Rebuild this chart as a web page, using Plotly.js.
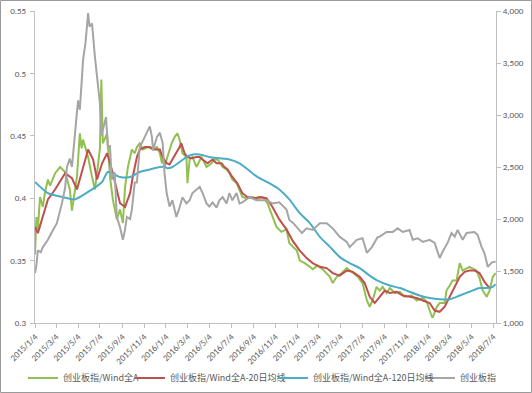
<!DOCTYPE html>
<html><head><meta charset="utf-8">
<script src="https://cdn.plot.ly/plotly-3.0.1.min.js"></script>
<style>html,body{margin:0;padding:0;background:#fff}#chart{width:532px;height:393px}</style>
</head><body><div id="chart"></div>
<script>
const seriesNames = ["创业板指/Wind全A","创业板指/Wind全A-20日均线","创业板指/Wind全A-120日均线","创业板指"];

const ratioDates = ["2015-01-04","2015-01-08","2015-01-12","2015-01-18","2015-01-26","2015-02-01","2015-02-09","2015-02-15","2015-03-01","2015-03-15","2015-03-29","2015-04-11","2015-04-17","2015-04-22","2015-05-01","2015-05-09","2015-05-14","2015-05-18","2015-06-01","2015-06-12","2015-06-20","2015-06-28","2015-07-04","2015-07-08","2015-07-10","2015-07-12","2015-07-24","2015-08-01","2015-08-09","2015-08-20","2015-08-29","2015-09-06","2015-09-12","2015-09-20","2015-10-01","2015-10-09","2015-10-15","2015-10-23","2015-11-01","2015-11-15","2015-11-29","2015-12-10","2015-12-18","2015-12-24","2015-12-26","2015-12-31","2016-01-08","2016-01-20","2016-01-28","2016-02-05","2016-02-11","2016-02-19","2016-03-01","2016-03-04","2016-03-10","2016-03-18","2016-03-29","2016-04-12","2016-04-26","2016-05-10","2016-05-18","2016-05-27","2016-06-10","2016-06-21","2016-06-29","2016-07-07","2016-07-19","2016-07-27","2016-08-04","2016-08-15","2016-09-01","2016-09-15","2016-09-29","2016-10-13","2016-10-24","2016-11-07","2016-11-21","2016-12-05","2016-12-13","2017-01-03","2017-01-11","2017-01-25","2017-02-08","2017-02-16","2017-03-02","2017-03-16","2017-04-05","2017-04-13","2017-04-24","2017-05-08","2017-05-22","2017-06-08","2017-06-22","2017-07-05","2017-07-17","2017-07-25","2017-08-02","2017-08-13","2017-08-22","2017-08-30","2017-09-10","2017-09-19","2017-10-03","2017-10-17","2017-10-30","2017-11-19","2017-12-03","2017-12-20","2017-12-31","2018-01-08","2018-01-16","2018-01-28","2018-02-05","2018-02-19","2018-02-24","2018-03-05","2018-03-13","2018-03-24","2018-04-02","2018-04-10","2018-04-21","2018-04-29","2018-05-19","2018-05-27","2018-06-05","2018-06-16","2018-06-24","2018-07-03","2018-07-11"];
const ratioValues = [0.355,0.385,0.375,0.401,0.393,0.405,0.415,0.410,0.420,0.425,0.421,0.407,0.390,0.400,0.417,0.452,0.440,0.447,0.433,0.417,0.407,0.425,0.440,0.495,0.460,0.444,0.452,0.417,0.399,0.383,0.391,0.380,0.409,0.425,0.439,0.436,0.441,0.444,0.439,0.441,0.439,0.441,0.436,0.428,0.433,0.425,0.433,0.444,0.449,0.452,0.447,0.436,0.433,0.412,0.431,0.433,0.425,0.433,0.425,0.428,0.431,0.431,0.425,0.423,0.420,0.415,0.412,0.407,0.401,0.400,0.401,0.399,0.401,0.396,0.388,0.377,0.373,0.375,0.364,0.358,0.350,0.348,0.345,0.343,0.346,0.343,0.337,0.332,0.337,0.340,0.344,0.340,0.337,0.332,0.318,0.313,0.318,0.329,0.326,0.329,0.324,0.328,0.324,0.325,0.321,0.322,0.318,0.320,0.317,0.310,0.304,0.313,0.316,0.316,0.326,0.330,0.334,0.334,0.348,0.342,0.344,0.345,0.342,0.336,0.326,0.321,0.326,0.337,0.340];

const ma20Dates = ["2015-01-04","2015-01-12","2015-02-09","2015-03-01","2015-03-29","2015-04-17","2015-05-01","2015-05-18","2015-06-01","2015-06-15","2015-06-26","2015-07-10","2015-07-24","2015-08-09","2015-08-29","2015-09-12","2015-09-26","2015-10-04","2015-10-15","2015-10-23","2015-11-06","2015-11-20","2015-12-04","2015-12-18","2015-12-26","2016-01-06","2016-01-14","2016-01-22","2016-02-02","2016-02-11","2016-02-16","2016-02-25","2016-03-04","2016-03-15","2016-03-29","2016-04-07","2016-04-15","2016-04-29","2016-05-13","2016-05-24","2016-06-07","2016-06-15","2016-06-24","2016-07-07","2016-07-21","2016-08-04","2016-08-18","2016-09-07","2016-09-21","2016-10-10","2016-10-27","2016-11-15","2016-12-05","2016-12-22","2017-01-11","2017-01-30","2017-02-16","2017-03-08","2017-03-27","2017-04-13","2017-05-02","2017-05-22","2017-06-08","2017-06-27","2017-07-11","2017-07-25","2017-08-08","2017-08-22","2017-09-05","2017-09-19","2017-10-08","2017-10-25","2017-11-13","2017-12-03","2017-12-20","2018-01-08","2018-01-22","2018-02-05","2018-02-19","2018-03-05","2018-03-19","2018-04-02","2018-04-16","2018-04-29","2018-05-13","2018-05-27","2018-06-10","2018-06-24"];
const ma20Values = [0.377,0.372,0.399,0.407,0.420,0.416,0.407,0.425,0.439,0.431,0.415,0.428,0.436,0.420,0.396,0.393,0.404,0.418,0.433,0.439,0.441,0.441,0.439,0.439,0.433,0.428,0.427,0.431,0.436,0.441,0.444,0.436,0.433,0.432,0.433,0.433,0.431,0.428,0.431,0.428,0.428,0.425,0.423,0.417,0.412,0.404,0.401,0.400,0.401,0.400,0.393,0.383,0.375,0.366,0.358,0.352,0.348,0.345,0.344,0.340,0.338,0.342,0.341,0.337,0.332,0.321,0.316,0.321,0.326,0.324,0.325,0.322,0.321,0.320,0.318,0.316,0.310,0.309,0.313,0.321,0.329,0.337,0.341,0.342,0.342,0.340,0.333,0.328];

const ma120Dates = ["2015-01-04","2015-02-09","2015-03-20","2015-04-25","2015-06-01","2015-07-10","2015-07-26","2015-08-29","2015-09-26","2015-10-23","2015-11-20","2015-12-18","2016-01-01","2016-01-08","2016-01-22","2016-02-11","2016-03-01","2016-03-18","2016-04-07","2016-05-04","2016-06-01","2016-06-29","2016-07-27","2016-08-15","2016-09-01","2016-09-21","2016-10-18","2016-11-15","2016-12-13","2017-01-11","2017-02-08","2017-03-08","2017-04-05","2017-05-02","2017-05-30","2017-06-27","2017-07-25","2017-08-16","2017-09-19","2017-10-17","2017-11-13","2017-12-11","2018-01-08","2018-02-05","2018-03-05","2018-04-02","2018-04-29","2018-05-27","2018-06-16","2018-07-03","2018-07-11"];
const ma120Values = [0.413,0.404,0.401,0.399,0.405,0.413,0.421,0.417,0.417,0.421,0.423,0.425,0.425,0.424,0.425,0.429,0.433,0.435,0.435,0.433,0.432,0.431,0.428,0.424,0.420,0.416,0.412,0.407,0.399,0.388,0.380,0.369,0.361,0.353,0.348,0.344,0.338,0.334,0.330,0.328,0.325,0.322,0.320,0.319,0.319,0.322,0.325,0.328,0.328,0.329,0.331];

const cybDates = ["2015-01-04","2015-01-08","2015-01-12","2015-01-20","2015-01-26","2015-02-09","2015-02-18","2015-03-06","2015-03-20","2015-03-29","2015-04-03","2015-04-11","2015-04-17","2015-04-25","2015-05-04","2015-05-09","2015-05-18","2015-05-25","2015-06-01","2015-06-05","2015-06-12","2015-06-20","2015-06-26","2015-07-04","2015-07-08","2015-07-12","2015-07-21","2015-07-26","2015-08-01","2015-08-06","2015-08-14","2015-08-20","2015-08-29","2015-09-06","2015-09-12","2015-09-17","2015-09-26","2015-10-01","2015-10-09","2015-10-15","2015-10-23","2015-11-06","2015-11-20","2015-11-26","2015-11-29","2015-12-10","2015-12-18","2015-12-26","2015-12-31","2016-01-06","2016-01-14","2016-01-22","2016-02-02","2016-02-11","2016-02-19","2016-03-01","2016-03-10","2016-03-18","2016-03-29","2016-04-07","2016-04-15","2016-04-26","2016-05-04","2016-05-13","2016-05-24","2016-06-01","2016-06-10","2016-06-21","2016-06-29","2016-07-07","2016-07-19","2016-07-27","2016-08-04","2016-08-24","2016-09-12","2016-10-10","2016-10-27","2016-11-15","2016-12-05","2016-12-13","2016-12-24","2017-01-17","2017-01-30","2017-02-16","2017-03-08","2017-03-27","2017-04-13","2017-05-02","2017-05-22","2017-05-30","2017-06-19","2017-07-05","2017-07-17","2017-07-31","2017-08-16","2017-08-22","2017-09-10","2017-09-27","2017-10-11","2017-10-25","2017-11-13","2017-11-22","2017-12-06","2017-12-20","2018-01-08","2018-01-22","2018-02-05","2018-02-13","2018-02-27","2018-03-10","2018-03-19","2018-03-27","2018-04-10","2018-04-21","2018-05-13","2018-05-22","2018-06-02","2018-06-10","2018-06-19","2018-06-30","2018-07-08","2018-07-11"];
const cybValues = [1480,1560,1700,1680,1730,1800,1860,1960,2150,2300,2500,2580,2500,2830,3140,3050,3530,3700,3980,3850,3880,3560,3340,3110,2800,2860,2980,2690,2700,2380,2450,2020,1920,1800,1900,2020,2000,2090,2350,2350,2690,2790,2890,2790,2660,2790,2830,2730,2440,2250,2120,2180,2020,2110,2210,2150,2180,2250,2280,2310,2250,2150,2120,2160,2110,2180,2210,2150,2250,2180,2250,2150,2160,2210,2180,2180,2150,2160,2090,1990,1960,1865,1910,1895,1960,1960,1910,1830,1780,1730,1800,1815,1675,1730,1825,1830,1875,1875,1910,1875,1895,1800,1815,1780,1800,1770,1625,1685,1770,1865,1830,1895,1800,1865,1875,1845,1730,1670,1540,1580,1590,1590];

const tickVals = ["2015-01-04","2015-03-04","2015-05-04","2015-07-04","2015-09-04","2015-11-04","2016-01-04","2016-03-04","2016-05-04","2016-07-04","2016-09-04","2016-11-04","2017-01-04","2017-03-04","2017-05-04","2017-07-04","2017-09-04","2017-11-04","2018-01-04","2018-03-04","2018-05-04","2018-07-04"];
const tickText = ["2015/1/4","2015/3/4","2015/5/4","2015/7/4","2015/9/4","2015/11/4","2016/1/4","2016/3/4","2016/5/4","2016/7/4","2016/9/4","2016/11/4","2017/1/4","2017/3/4","2017/5/4","2017/7/4","2017/9/4","2017/11/4","2018/1/4","2018/3/4","2018/5/4","2018/7/4"];

const colors = ["#92C050","#C0504D","#4BACC6","#A5A5A5"];
const FONT = "Calibri, Carlito, 'Noto Sans CJK SC', 'Liberation Sans', sans-serif";

const traces = [
  {x: cybDates, y: cybValues, name: seriesNames[3], legend: "legend4", type: "scatter", mode: "lines", line: {color: colors[3], width: 2}, yaxis: "y2"},
  {x: ratioDates, y: ratioValues, name: seriesNames[0], legend: "legend", type: "scatter", mode: "lines", line: {color: colors[0], width: 2}, yaxis: "y"},
  {x: ma20Dates, y: ma20Values, name: seriesNames[1], legend: "legend2", type: "scatter", mode: "lines", line: {color: colors[1], width: 2}, yaxis: "y"},
  {x: ma120Dates, y: ma120Values, name: seriesNames[2], legend: "legend3", type: "scatter", mode: "lines", line: {color: colors[2], width: 2, shape: "spline", smoothing: 0.6}, yaxis: "y"}
];

function legendAt(xp) {
  return {orientation: "h", x: xp, xanchor: "left", y: -0.176, yanchor: "middle",
          bgcolor: "rgba(0,0,0,0)", itemwidth: 30,
          font: {family: "'Noto Sans CJK SC', sans-serif", size: 9, color: "#595959"}};
}

const layout = {
  width: 532, height: 393,
  margin: {l: 35, r: 36, t: 11, b: 70, autoexpand: false},
  paper_bgcolor: "#fff", plot_bgcolor: "#fff",
  font: {family: FONT, size: 9, color: "#595959"},
  showlegend: true,
  legend: legendAt(-0.026),
  legend2: legendAt(0.206),
  legend3: legendAt(0.516),
  legend4: legendAt(0.835),
  xaxis: {type: "date", range: ["2015-01-04", "2018-07-12"], tickmode: "array", tickvals: tickVals, ticktext: tickText,
          tickangle: -45, showgrid: false, zeroline: false, showline: true, linecolor: "#BFBFBF", linewidth: 1,
          ticks: "outside", ticklen: 4, tickcolor: "#BFBFBF", tickfont: {size: 9, color: "#595959"}},
  yaxis: {range: [0.3, 0.55], dtick: 0.05, tick0: 0.3, showgrid: false, zeroline: false, showline: true,
          linecolor: "#BFBFBF", ticks: "outside", ticklen: 4, tickcolor: "#BFBFBF", tickfont: {size: 9, color: "#595959"},
          ticksuffix: " "},
  yaxis2: {range: [1000, 4000], dtick: 500, overlaying: "y", side: "right", showgrid: false, zeroline: false,
           showline: true, linecolor: "#BFBFBF", ticks: "outside", ticklen: 4, tickcolor: "#BFBFBF",
           tickformat: ",d", tickfont: {size: 9, color: "#595959"}},
  shapes: [{type: "rect", xref: "paper", yref: "paper", x0: -0.0748, x1: 1.0770, y0: -0.2228, y1: 1.0337,
            line: {color: "#9A9A9A", width: 1}, fillcolor: "rgba(0,0,0,0)", layer: "below"}]
};

Plotly.newPlot("chart", traces, layout, {displayModeBar: false, staticPlot: true});
</script></body></html>
